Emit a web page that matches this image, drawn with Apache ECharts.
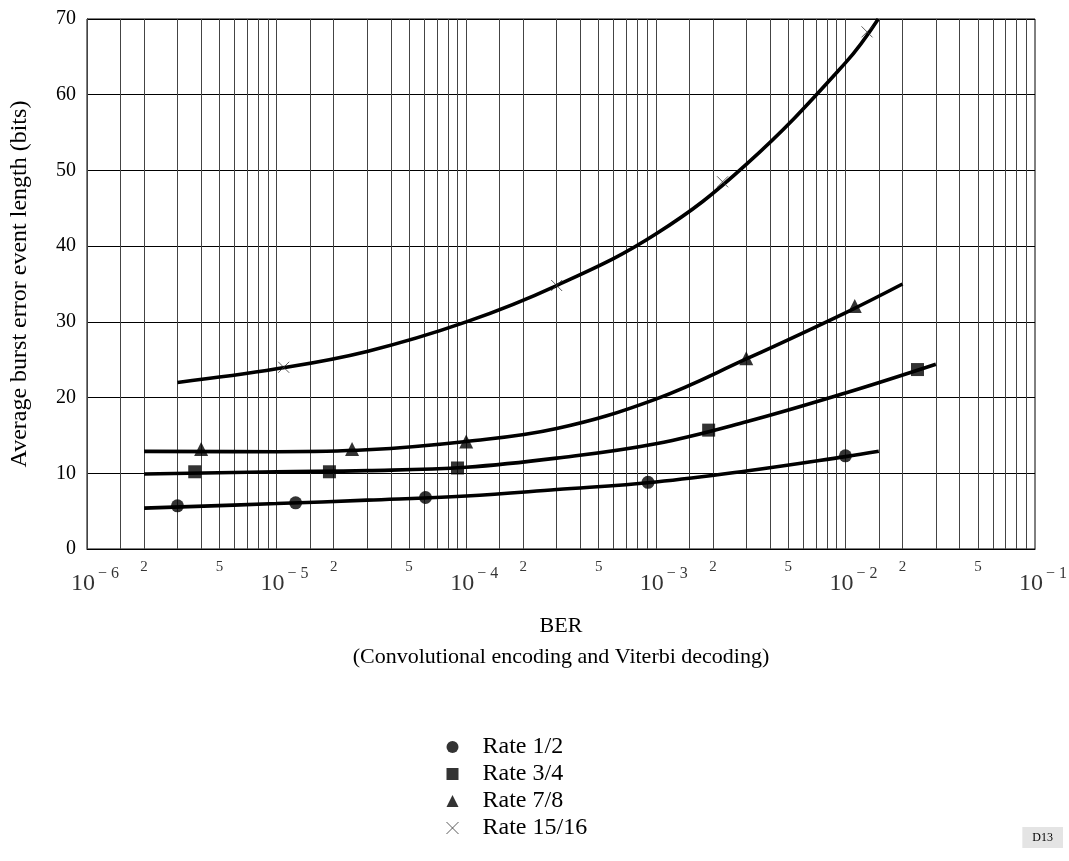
<!DOCTYPE html>
<html>
<head>
<meta charset="utf-8">
<script src="https://cdn.jsdelivr.net/npm/echarts@6/dist/echarts.min.js"></script>
<style>
  html, body { margin: 0; padding: 0; background: #fff; }
  #chart { width: 1069px; height: 861px; }
</style>
</head>
<body>
<div id="chart"></div>
<script>
// Axis structure
const decadeExponents = [-6, -5, -4, -3, -2, -1];
const gridMultiples = [1, 1.5, 2, 3, 4, 5, 6, 7, 8, 9];
const minorLabelMultiples = [2, 5];

// Rate 1/2 (circles)
const rate12MarkX = [3.0e-6, 1.26e-5, 6.1e-5, 9.1e-4, 1.0e-2];
const rate12MarkY = [5.7, 6.1, 6.8, 8.8, 12.3];
const rate12CurveX = [2e-6, 1e-5, 3e-5, 1e-4, 3e-4, 1e-3, 3e-3, 1e-2, 1.5e-2];
const rate12CurveY = [5.4, 6.0, 6.45, 7.0, 7.85, 8.85, 10.3, 12.2, 12.9];

// Rate 3/4 (squares)
const rate34MarkX = [3.7e-6, 1.9e-5, 9.0e-5, 1.9e-3, 2.4e-2];
const rate34MarkY = [10.2, 10.2, 10.7, 15.7, 23.7];
const rate34CurveX = [2e-6, 1e-5, 3e-5, 1e-4, 3e-4, 1e-3, 3e-3, 1e-2, 3e-2];
const rate34CurveY = [9.9, 10.2, 10.35, 10.8, 12.0, 13.9, 16.8, 20.6, 24.4];

// Rate 7/8 (triangles)
const rate78MarkX = [4.0e-6, 2.5e-5, 1.0e-4, 3.0e-3, 1.12e-2];
const rate78MarkY = [13.2, 13.2, 14.2, 25.2, 32.1];
const rate78CurveX = [2e-6, 1e-5, 3e-5, 1e-4, 3e-4, 1e-3, 3e-3, 1e-2, 2e-2];
const rate78CurveY = [12.9, 12.85, 13.1, 14.2, 15.9, 19.8, 25.1, 31.2, 35.0];

// Rate 15/16 (crosses)
const rate1516MarkX = [1.09e-5, 3.0e-4, 2.25e-3, 1.3e-2];
const rate1516MarkY = [24.0, 34.8, 48.5, 68.3];
const rate1516CurveX = [3e-6, 1e-5, 3e-5, 1e-4, 3e-4, 1e-3, 3e-3, 1e-2, 1.49e-2];
const rate1516CurveY = [22.0, 23.8, 26.1, 30.0, 34.8, 41.6, 50.8, 64.2, 70.0];

const seriesNames = ['Rate 1/2', 'Rate 3/4', 'Rate 7/8', 'Rate 15/16'];

const SERIF = "'Liberation Serif', 'Times New Roman', serif";
const CROSS = 'path://M0,0L10,10M10,0L0,10';

const zip = (xs, ys) => xs.map((x, i) => [x, ys[i]]);

// Vertical grid lines: each multiple inside every decade
const gridLineValues = [];
decadeExponents.slice(0, -1).forEach(e => {
  gridMultiples.forEach(m => gridLineValues.push(m * Math.pow(10, e)));
});

// Small "2" and "5" labels under the axis
const minorLabelData = [];
decadeExponents.slice(0, -1).forEach(e => {
  minorLabelMultiples.forEach(m => minorLabelData.push({ value: [m * Math.pow(10, e), 0], mult: m }));
});

// Decade labels 10^k
const decadeLabelData = decadeExponents.map(e => ({ value: [Math.pow(10, e), 0], exp: e }));

function curve(name, xs, ys) {
  return {
    name: name + ' curve',
    type: 'line',
    data: zip(xs, ys),
    smooth: 0.4,
    showSymbol: false,
    symbol: 'none',
    silent: true,
    z: 3,
    lineStyle: { color: '#000', width: 3.6 },
    emphasis: { disabled: true }
  };
}

function marks(name, xs, ys, symbol, size, style) {
  return {
    name: name,
    type: 'scatter',
    data: zip(xs, ys),
    symbol: symbol,
    symbolSize: size,
    silent: true,
    z: 4,
    itemStyle: style,
    emphasis: { disabled: true }
  };
}

const filled = { color: '#000' };
const crossStyle = { color: 'transparent', borderColor: '#333', borderWidth: 1 };

const chart = echarts.init(document.getElementById('chart'), null, { renderer: 'canvas' });

chart.setOption({
  backgroundColor: '#fff',
  animation: false,
  textStyle: { fontFamily: SERIF, color: '#000' },
  grid: {
    left: 87, right: 34, top: 19, bottom: 312,
    show: true, borderColor: '#000', borderWidth: 1, backgroundColor: 'transparent'
  },
  xAxis: {
    type: 'log',
    logBase: 10,
    min: 1e-6,
    max: 1e-1,
    axisLine: { show: true, lineStyle: { color: '#000', width: 1 } },
    axisTick: { show: false },
    axisLabel: { show: false },
    splitLine: { show: false },
    name: 'BER\n(Convolutional encoding and Viterbi decoding)',
    nameLocation: 'middle',
    nameGap: 62,
    nameTextStyle: { fontFamily: SERIF, fontSize: 22, color: '#000', lineHeight: 31 }
  },
  yAxis: {
    type: 'value',
    min: 0,
    max: 70,
    interval: 10,
    axisLine: { show: true, lineStyle: { color: '#000', width: 1 } },
    axisTick: { show: false },
    axisLabel: { fontFamily: SERIF, fontSize: 20, color: '#000', margin: 11 },
    splitLine: { show: true, lineStyle: { color: '#000', width: 1 } },
    name: 'Average burst error event length (bits)',
    nameLocation: 'middle',
    nameGap: 55,
    nameTextStyle: { fontFamily: SERIF, fontSize: 24, color: '#000' }
  },
  legend: {
    orient: 'vertical',
    left: 441,
    top: 730,
    itemWidth: 12,
    itemHeight: 12,
    itemGap: 3,
    selectedMode: false,
    textStyle: { fontFamily: SERIF, fontSize: 24, color: '#000', padding: [0, 0, 0, 19] },
    data: [
      { name: seriesNames[0], icon: 'circle' },
      { name: seriesNames[1], icon: 'rect' },
      { name: seriesNames[2], icon: 'triangle' },
      { name: seriesNames[3], icon: CROSS, itemStyle: crossStyle }
    ]
  },
  graphic: [{
    type: 'text',
    right: 6,
    bottom: 13,
    style: {
      text: 'D13',
      fontFamily: SERIF,
      fontSize: 12,
      fill: '#000',
      backgroundColor: '#e4e4e4',
      padding: [5, 10, 4, 10]
    }
  }],
  series: [
    {
      name: 'grid lines',
      type: 'lines',
      coordinateSystem: 'cartesian2d',
      polyline: false,
      silent: true,
      z: 1,
      lineStyle: { color: '#444', width: 1, opacity: 1 },
      data: gridLineValues.map(v => ({ coords: [[v, 0], [v, 70]] }))
    },
    curve(seriesNames[0], rate12CurveX, rate12CurveY),
    curve(seriesNames[1], rate34CurveX, rate34CurveY),
    curve(seriesNames[2], rate78CurveX, rate78CurveY),
    curve(seriesNames[3], rate1516CurveX, rate1516CurveY),
    marks(seriesNames[0], rate12MarkX, rate12MarkY, 'circle', 13, filled),
    marks(seriesNames[1], rate34MarkX, rate34MarkY, 'rect', 13, filled),
    marks(seriesNames[2], rate78MarkX, rate78MarkY, 'triangle', 14, filled),
    marks(seriesNames[3], rate1516MarkX, rate1516MarkY, CROSS, 11, crossStyle),
    {
      name: 'minor labels',
      type: 'scatter',
      data: minorLabelData,
      symbolSize: 1,
      clip: false,
      silent: true,
      itemStyle: { color: 'transparent' },
      label: {
        show: true,
        position: 'bottom',
        distance: 10,
        fontFamily: SERIF,
        fontSize: 15,
        color: '#000',
        formatter: p => String(p.data.mult)
      }
    },
    {
      name: 'decade labels',
      type: 'scatter',
      data: decadeLabelData,
      symbolSize: 1,
      clip: false,
      silent: true,
      itemStyle: { color: 'transparent' },
      label: {
        show: true,
        position: 'bottom',
        distance: 22,
        padding: [0, 0, 0, 16],
        formatter: p => '{b|10}{s|\u2212 ' + Math.abs(p.data.exp) + '}',
        rich: {
          b: { fontFamily: SERIF, fontSize: 24, color: '#000', verticalAlign: 'bottom', lineHeight: 24 },
          s: { fontFamily: SERIF, fontSize: 16, color: '#000', verticalAlign: 'bottom', lineHeight: 16, padding: [0, 0, 14, 3] }
        }
      }
    }
  ]
});
</script>
</body>
</html>
